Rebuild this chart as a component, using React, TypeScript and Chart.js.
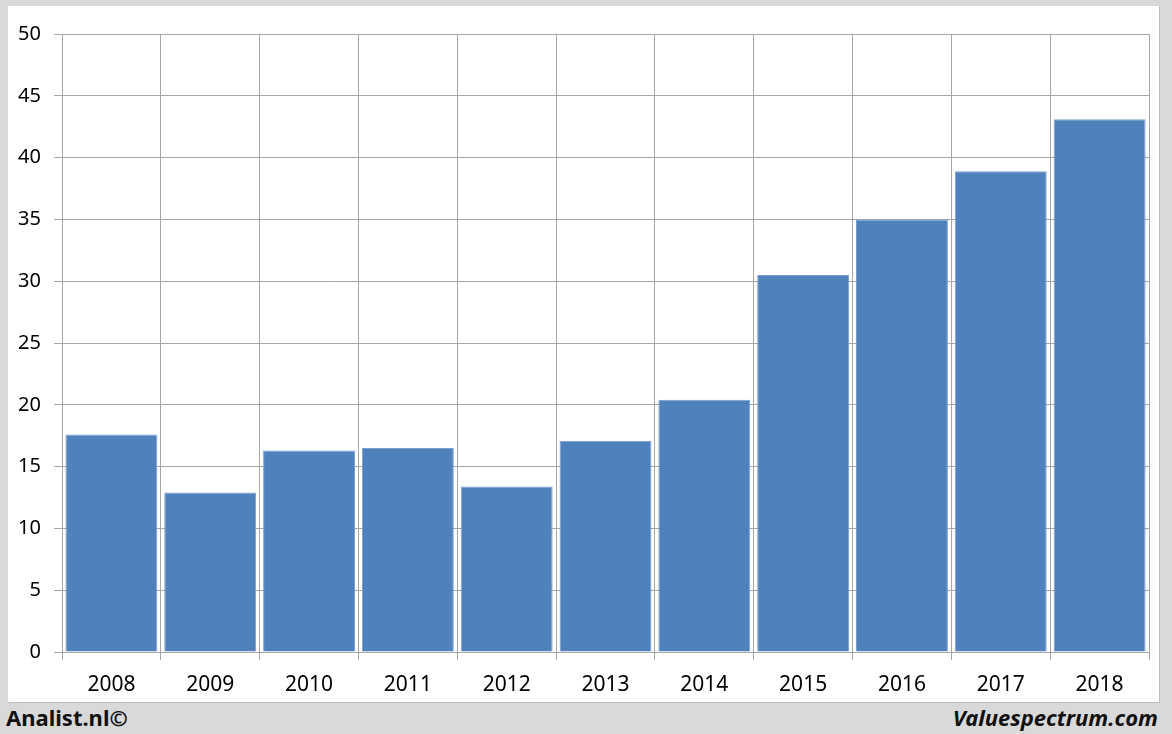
import React, { useEffect, useRef } from "react";
import { Chart, registerables } from "chart.js";

Chart.register(...registerables);

const categories = ["2008", "2009", "2010", "2011", "2012", "2013", "2014", "2015", "2016", "2017", "2018"];
const values = [17.6, 12.9, 16.3, 16.5, 13.4, 17.1, 20.4, 30.5, 35.0, 38.9, 43.1];
const yTicks = [0, 5, 10, 15, 20, 25, 30, 35, 40, 45, 50];

const FONT = "'Noto Sans', 'Open Sans', sans-serif";

export default function App() {
  const ref = useRef<HTMLCanvasElement | null>(null);

  useEffect(() => {
    document.body.style.margin = "0";
    const canvas = ref.current;
    if (!canvas) return;
    const chart = new Chart(canvas, {
      type: "bar",
      data: {
        labels: categories,
        datasets: [
          {
            data: values,
            backgroundColor: "#4f81bd",
            borderColor: "#7a9fcf",
            borderWidth: 1,
            barPercentage: 0.93,
            categoryPercentage: 1,
          },
        ],
      },
      options: {
        animation: false,
        responsive: false,
        maintainAspectRatio: false,
        events: [],
        layout: { padding: { top: 28, right: 10, left: 0, bottom: 0 } },
        plugins: { legend: { display: false }, tooltip: { enabled: false }, title: { display: false } },
        scales: {
          x: {
            type: "category",
            offset: true,
            grid: { display: true, offset: true, color: "#a6a6a6", lineWidth: 1, tickLength: 8, drawTicks: true },
            border: { display: true, color: "#a6a6a6" },
            ticks: { color: "#000", font: { family: FONT, size: 21 }, padding: 12, maxRotation: 0, autoSkip: false },
            afterFit: (s: any) => { s.height = 50; },
          },
          y: {
            min: 0,
            max: 50,
            afterBuildTicks: (s: any) => { s.ticks = yTicks.map((v) => ({ value: v })); },
            grid: { display: true, color: "#a6a6a6", lineWidth: 1, tickLength: 8, drawTicks: true },
            border: { display: true, color: "#a6a6a6" },
            ticks: { color: "#000", font: { family: FONT, size: 20 }, padding: 13 },
            afterFit: (s: any) => { s.width = 54; },
          },
        },
      },
    });
    return () => chart.destroy();
  }, []);

  return (
    <div style={{ position: "relative", width: 1172, height: 734, background: "#d9d9d9", overflow: "hidden" }}>
      <div
        style={{
          position: "absolute",
          left: 8,
          top: 6,
          width: 1151,
          height: 696,
          background: "#ffffff",
          boxShadow: "1px 1px 0 #bdbdbd",
        }}
      >
        <canvas ref={ref} width={1151} height={696} style={{ display: "block", width: 1151, height: 696 }} />
      </div>
      <div
        style={{
          position: "absolute",
          left: 6,
          top: 702,
          fontFamily: FONT,
          fontWeight: 700,
          fontSize: 22,
          lineHeight: "30px",
          color: "#111",
        }}
      >
        Analist.nl©
      </div>
      <div
        style={{
          position: "absolute",
          right: 14,
          top: 702,
          fontFamily: FONT,
          fontWeight: 700,
          fontStyle: "italic",
          fontSize: 22,
          lineHeight: "30px",
          color: "#111",
        }}
      >
        Valuespectrum.com
      </div>
    </div>
  );
}
